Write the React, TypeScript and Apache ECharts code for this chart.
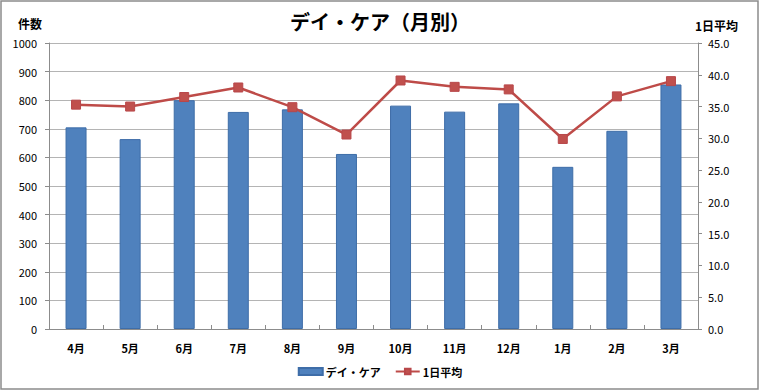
import React, { useEffect, useRef } from "react";
import * as echarts from "echarts";

const months = ["4月", "5月", "6月", "7月", "8月", "9月", "10月", "11月", "12月", "1月", "2月", "3月"];
const dayCareCounts = [705, 664, 800, 759, 768, 612, 781, 760, 789, 567, 693, 855];
const dailyAverage = [35.3, 35.0, 36.5, 38.0, 34.9, 30.6, 39.1, 38.1, 37.7, 29.9, 36.6, 39.0];
const seriesNames = ["デイ・ケア", "1日平均"];

const FONT = "'Noto Sans CJK JP', 'Noto Sans', sans-serif";

export default function App() {
  const ref = useRef<HTMLDivElement>(null);
  useEffect(() => {
    if (!ref.current) return;
    const chart = echarts.init(ref.current, null, { renderer: "svg" });
    chart.setOption({
      animation: false,
      backgroundColor: "#ffffff",
      textStyle: { fontFamily: FONT },
      title: {
        text: "デイ・ケア（月別）",
        left: "center",
        top: 6,
        textStyle: { fontFamily: FONT, fontSize: 20, fontWeight: "bold", color: "#000" },
      },
      graphic: [
        {
          type: "rect",
          shape: { x: 1, y: 1, width: 757, height: 388 },
          style: { fill: "none", stroke: "#8c8c8c", lineWidth: 1.5 },
          silent: true,
        },
        {
          type: "text",
          x: 42,
          y: 23,
          style: { text: "件数", font: `bold 12px ${FONT}`, fill: "#000", textAlign: "right", textVerticalAlign: "middle" },
        },
        {
          type: "text",
          x: 695,
          y: 25,
          style: { text: "1日平均", font: `bold 12px ${FONT}`, fill: "#000", textAlign: "left", textVerticalAlign: "middle" },
        },
      ],
      legend: {
        bottom: 10,
        left: "center",
        itemWidth: 24,
        itemHeight: 7,
        itemGap: 14,
        data: [
          { name: seriesNames[0], icon: "rect" },
          { name: seriesNames[1] },
        ],
        textStyle: { fontFamily: FONT, fontSize: 11, fontWeight: "bold", color: "#000", padding: [0, 0, 0, -2] },
      },
      grid: { left: 49, right: 62, top: 43, bottom: 63, containLabel: false },
      xAxis: {
        type: "category",
        data: months,
        axisLine: { lineStyle: { color: "#8c8c8c", width: 1 } },
        axisTick: { show: true, inside: true, length: 4, alignWithLabel: false, lineStyle: { color: "#8c8c8c" } },
        axisLabel: { fontFamily: FONT, fontSize: 11, fontWeight: "bold", color: "#000", margin: 13 },
      },
      yAxis: [
        {
          type: "value",
          min: 0,
          max: 1000,
          interval: 100,
          axisLine: { show: true, lineStyle: { color: "#8c8c8c" } },
          axisTick: { show: true, length: 4, lineStyle: { color: "#8c8c8c" } },
          axisLabel: { fontFamily: FONT, fontSize: 11, color: "#000", margin: 12, formatter: (v: number) => String(v) },
          splitLine: { lineStyle: { color: "#b4b4b4", width: 1.2 } },
        },
        {
          type: "value",
          min: 0,
          max: 45,
          interval: 5,
          position: "right",
          axisLine: { show: true, lineStyle: { color: "#8c8c8c" } },
          axisTick: { show: true, length: 4, lineStyle: { color: "#8c8c8c" } },
          axisLabel: {
            fontFamily: FONT,
            fontSize: 11,
            color: "#000",
            margin: 10,
            formatter: (v: number) => v.toFixed(1),
          },
          splitLine: { show: false },
        },
      ],
      series: [
        {
          name: seriesNames[0],
          type: "bar",
          data: dayCareCounts,
          barWidth: 21,
          itemStyle: { color: "#4F81BD", borderColor: "#3E6DA8", borderWidth: 1 },
        },
        {
          name: seriesNames[1],
          type: "line",
          yAxisIndex: 1,
          data: dailyAverage,
          symbol: "rect",
          symbolSize: 9,
          lineStyle: { color: "#BE4B48", width: 2.5 },
          itemStyle: { color: "#C0504D", borderColor: "#B8474A", borderWidth: 1 },
        },
      ],
    });
    return () => chart.dispose();
  }, []);
  return (
    <div
      ref={ref}
      style={{ position: "absolute", left: 0, top: 0, width: 760, height: 392 }}
    />
  );
}
